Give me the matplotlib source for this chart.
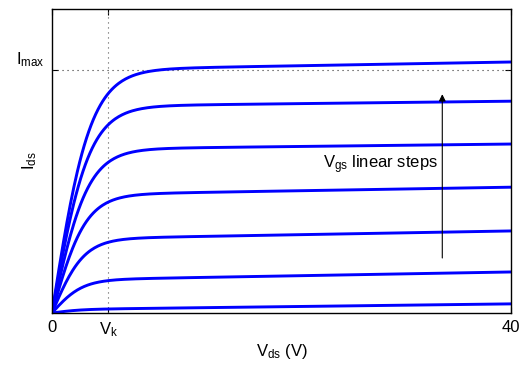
import numpy as np
import matplotlib.pyplot as plt
from matplotlib.transforms import ScaledTranslation

plt.rcParams['font.family'] = ['Liberation Sans', 'DejaVu Sans']
plt.rcParams['mathtext.fontset'] = 'custom'
plt.rcParams['mathtext.rm'] = 'Liberation Sans'
plt.rcParams['mathtext.it'] = 'Liberation Sans'
plt.rcParams['mathtext.default'] = 'rm'

# drain sweep and knee / max markers
vds_max = 40.0
v_knee = 4.9
i_max = 0.8

# current level of each Vgs step just past the knee (Vds = 10) and at Vds = 40
i_mid = [0.016, 0.115, 0.250, 0.395, 0.543, 0.684, 0.806]
i_end = [0.030, 0.135, 0.270, 0.414, 0.556, 0.697, 0.826]
alpha = [0.40, 0.38, 0.36, 0.34, 0.32, 0.31, 0.30]

x_ticks = [0, v_knee, vds_max]
x_ticklabels = ['0', r'V$_k$', '40']


def ids_curve(vds, im, ie, a):
    g = (ie - im) / (vds_max - 10.0)
    i0 = im - g * 10.0
    return i0 * np.tanh(a * vds) + g * vds


fig = plt.figure(figsize=(5.24, 3.65), dpi=100)
ax = fig.add_axes([0.0992, 0.1425, 0.8763, 0.8325])

vds = np.linspace(0, vds_max, 400)

ax.plot([v_knee, v_knee], [0, 1], ls=(0, (1, 3.5)), color='0.35', lw=0.8)
ax.plot([0, vds_max], [i_max, i_max], ls=(0, (1, 3.5)), color='0.2', lw=0.8)

for im, ie, a in zip(i_mid, i_end, alpha):
    ax.plot(vds, ids_curve(vds, im, ie, a), color='#0000ff', lw=2.1)

ax.annotate('', xy=(34.0, 0.72), xytext=(34.0, 0.181),
            arrowprops=dict(arrowstyle='-|>', color='black', lw=0.8,
                            mutation_scale=10, shrinkA=0, shrinkB=0))
ax.text(33.6, 0.487, r'V$_{gs}$ linear steps', ha='right', va='center',
        fontsize=12)

ax.set_xlim(0, vds_max)
ax.set_ylim(0, 1)
ax.set_xticks(x_ticks)
ax.set_xticklabels(x_ticklabels, fontsize=12)
ax.set_yticks([i_max])
ax.set_yticklabels([r'I$_{max}$'], fontsize=12)
ax.tick_params(direction='in', length=4, width=0.8, top=True, right=True,
               pad=5)
for s in ax.spines.values():
    s.set_linewidth(1.0)

# Imax label sits just above its tick
for lab in ax.get_yticklabels():
    lab.set_transform(lab.get_transform() +
                      ScaledTranslation(0, 0.13, fig.dpi_scale_trans))

ax.set_xlabel(r'V$_{ds}$ (V)', fontsize=12)
ax.xaxis.set_label_coords(0.5, -0.095)
ax.set_ylabel(r'I$_{ds}$', fontsize=12)
ax.yaxis.set_label_coords(-0.028, 0.5)

fig.savefig('out.png', dpi=100)
